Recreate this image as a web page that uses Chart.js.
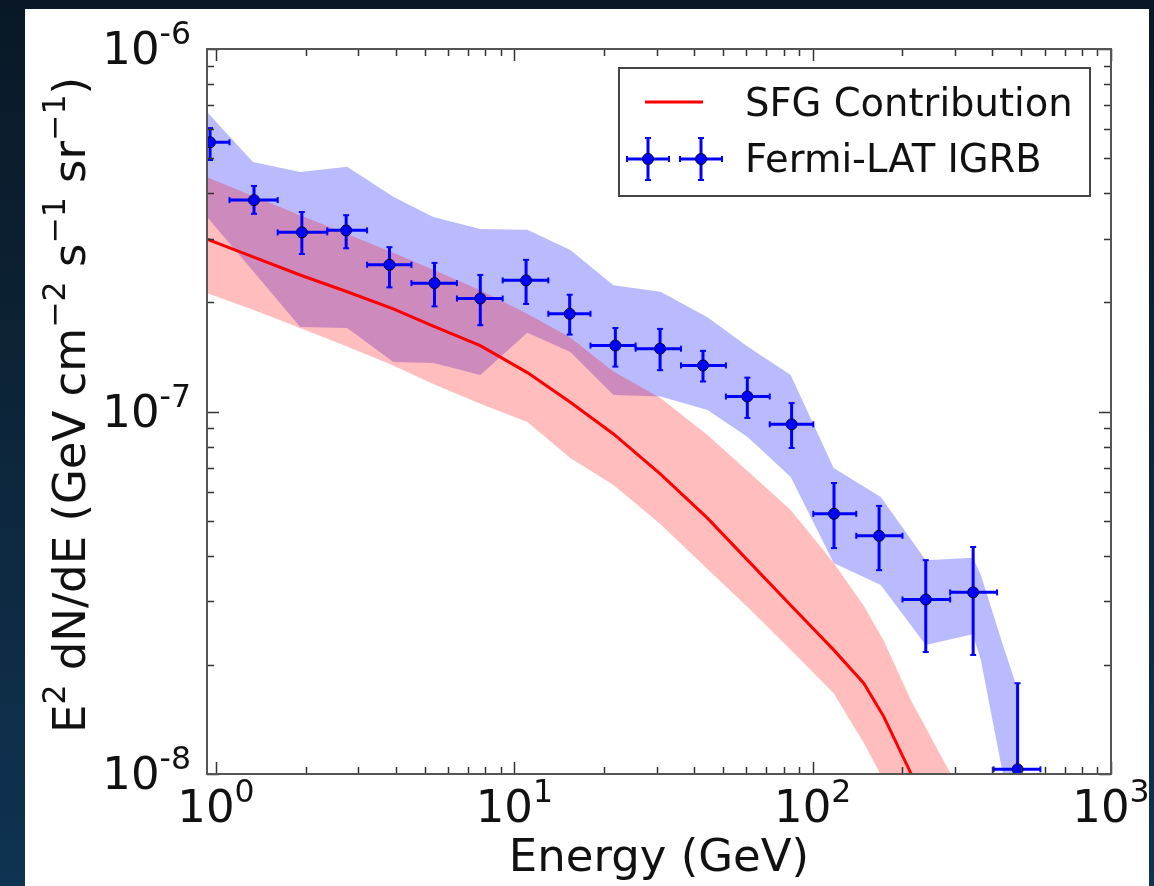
<!DOCTYPE html>
<html>
<head>
<meta charset="utf-8">
<script src="https://cdn.jsdelivr.net/npm/chart.js@4.4.1/dist/chart.umd.min.js"></script>
<style>
html, body { margin:0; padding:0; width:1154px; height:886px; overflow:hidden;
  background: linear-gradient(180deg, #0a1826 0%, #0c2438 45%, #0f3352 100%); }
#panel { position:absolute; left:25px; top:9px; width:1124px; height:877px; background:#ffffff; }
#wrap { position:absolute; left:0; top:0; width:1154px; height:886px; }
</style>
</head>
<body>
<div id="panel"></div>
<div id="wrap"><canvas id="c" width="1154" height="886"></canvas></div>
<script>
// ---------------- data ----------------
// Fermi-LAT IGRB data points
const fermiEnergy  = [0.955, 1.341, 1.940, 2.731, 3.815, 5.40, 7.69, 10.95, 15.33, 21.81, 30.8, 42.9, 60.4, 85.0, 117.9, 167.0, 239.4, 345.1, 486.3];
const fermiFlux    = [5.53e-7, 3.83e-7, 3.12e-7, 3.16e-7, 2.54e-7, 2.26e-7, 2.05e-7, 2.30e-7, 1.86e-7, 1.52e-7, 1.49e-7, 1.34e-7, 1.10e-7, 9.22e-8, 5.22e-8, 4.54e-8, 3.03e-8, 3.17e-8, 1.03e-8];
const fermiErrHigh = [6.05e-7, 4.19e-7, 3.55e-7, 3.48e-7, 2.84e-7, 2.57e-7, 2.38e-7, 2.62e-7, 2.10e-7, 1.70e-7, 1.69e-7, 1.47e-7, 1.24e-7, 1.055e-7, 6.35e-8, 5.49e-8, 3.89e-8, 4.23e-8, 1.78e-8];
const fermiErrLow  = [4.94e-7, 3.51e-7, 2.72e-7, 2.82e-7, 2.20e-7, 1.95e-7, 1.73e-7, 1.98e-7, 1.63e-7, 1.33e-7, 1.30e-7, 1.21e-7, 9.60e-8, 7.93e-8, 4.20e-8, 3.65e-8, 2.17e-8, 2.13e-8, 1e-9];
const fermiBinLow  = [0.818, 1.11, 1.61, 2.36, 3.21, 4.52, 6.42, 9.14, 13.0, 18.0, 25.5, 36.2, 51.2, 71.8, 100.5, 140, 200, 289, 404];
const fermiBinHigh = [1.11, 1.61, 2.36, 3.21, 4.52, 6.42, 9.14, 13.0, 18.0, 25.5, 36.2, 51.2, 71.8, 100.5, 140, 200, 289, 415, 580];

// Fermi systematic band (blue)
const blueBandEnergy = [0.933, 1.331, 1.914, 2.752, 3.93, 5.35, 7.69, 11.06, 15.41, 21.49, 30.9, 44.4, 60.5, 84.4, 117.6, 169.1, 239.4, 344.4, 366.3, 434.2, 487.5];
const blueBandHigh   = [6.70e-7, 4.88e-7, 4.58e-7, 4.73e-7, 3.91e-7, 3.44e-7, 3.19e-7, 3.17e-7, 2.79e-7, 2.23e-7, 2.14e-7, 1.82e-7, 1.51e-7, 1.26e-7, 6.98e-8, 5.81e-8, 3.89e-8, 3.95e-8, 3.54e-8, 2.27e-8, 1.70e-8];
const blueBandLow    = [3.44e-7, 2.44e-7, 1.71e-7, 1.70e-7, 1.37e-7, 1.36e-7, 1.26e-7, 1.65e-7, 1.46e-7, 1.11e-7, 1.10e-7, 1.01e-7, 8.51e-8, 6.60e-8, 3.82e-8, 3.32e-8, 2.27e-8, 2.43e-8, 2.06e-8, 1.0e-8, 1e-9];

// SFG contribution (red line and band)
const sfgEnergy = [0.933, 1.331, 1.914, 2.752, 3.93, 5.35, 7.69, 11.06, 15.41, 21.49, 30.9, 44.4, 60.5, 84.4, 117.6, 148.3, 173.1, 213.3, 290.4];
const sfgFlux   = [2.99e-7, 2.67e-7, 2.38e-7, 2.14e-7, 1.92e-7, 1.72e-7, 1.52e-7, 1.28e-7, 1.06e-7, 8.67e-8, 6.72e-8, 5.08e-8, 3.89e-8, 2.92e-8, 2.20e-8, 1.78e-8, 1.44e-8, 1.006e-8, 5.9e-9];
const sfgHigh   = [4.43e-7, 3.93e-7, 3.48e-7, 3.09e-7, 2.74e-7, 2.46e-7, 2.16e-7, 1.86e-7, 1.60e-7, 1.29e-7, 1.09e-7, 8.61e-8, 6.85e-8, 5.35e-8, 3.82e-8, 2.91e-8, 2.33e-8, 1.60e-8, 1.0e-8];
const sfgLow    = [2.12e-7, 1.91e-7, 1.70e-7, 1.51e-7, 1.34e-7, 1.19e-7, 1.05e-7, 9.36e-8, 7.44e-8, 6.27e-8, 4.89e-8, 3.68e-8, 2.89e-8, 2.20e-8, 1.67e-8, 1.22e-8, 9.6e-9, 7.0e-9, 4.5e-9];

// axes and tick labels
const xMin = 0.933, xMax = 1000;
const yMin = 1e-8, yMax = 1e-6;
const xTickValues = [1, 10, 100, 1000];
const xTickExps   = ['0', '1', '2', '3'];
const yTickValues = [1e-8, 1e-7, 1e-6];
const yTickExps   = ['-8', '-7', '-6'];
const xTitle = 'Energy (GeV)';
const yTitleParts = [
  {t:'E'}, {t:'2', s:true}, {t:' dN/dE (GeV cm'}, {t:'\u22122', s:true},
  {t:' s'}, {t:'\u22121', s:true}, {t:' sr'}, {t:'\u22121', s:true}, {t:')'}
];
const legendLabels = ['SFG Contribution', 'Fermi-LAT IGRB'];

// ---------------- chart ----------------
const FONT = "'DejaVu Sans', 'Bitstream Vera Sans', sans-serif";
const BLUE = '#0000ff';
const RED = '#ff0000';

const pts = (xs, ys) => xs.map((x, i) => ({x: x, y: ys[i]}));

const xErrPts = [];
const yErrPts = [];
fermiEnergy.forEach((e, i) => {
  xErrPts.push({x: fermiBinLow[i], y: fermiFlux[i]}, {x: fermiBinHigh[i], y: fermiFlux[i]}, {x: fermiBinHigh[i], y: null});
  yErrPts.push({x: e, y: fermiErrLow[i]}, {x: e, y: fermiErrHigh[i]}, {x: e, y: null});
});

function richWidth(ctx, parts, base, sup) {
  let w = 0;
  for (const p of parts) {
    ctx.font = (p.s ? sup : base) + 'px ' + FONT;
    w += ctx.measureText(p.t).width;
  }
  return w;
}
function drawRich(ctx, parts, x, y, base, sup, raise) {
  ctx.textAlign = 'left';
  ctx.textBaseline = 'alphabetic';
  for (const p of parts) {
    ctx.font = (p.s ? sup : base) + 'px ' + FONT;
    ctx.fillText(p.t, x, p.s ? y - raise : y);
    x += ctx.measureText(p.t).width;
  }
}
function drawErrMarker(ctx, cx, cy) {
  ctx.strokeStyle = BLUE; ctx.lineWidth = 3;
  ctx.beginPath();
  ctx.moveTo(cx - 21, cy); ctx.lineTo(cx + 21, cy);
  ctx.moveTo(cx, cy - 21); ctx.lineTo(cx, cy + 21);
  ctx.stroke();
  ctx.lineWidth = 2;
  ctx.beginPath();
  ctx.moveTo(cx - 21, cy - 3); ctx.lineTo(cx - 21, cy + 3);
  ctx.moveTo(cx + 21, cy - 3); ctx.lineTo(cx + 21, cy + 3);
  ctx.moveTo(cx - 3, cy - 21); ctx.lineTo(cx + 3, cy - 21);
  ctx.moveTo(cx - 3, cy + 21); ctx.lineTo(cx + 3, cy + 21);
  ctx.stroke();
  ctx.fillStyle = BLUE; ctx.strokeStyle = '#000033'; ctx.lineWidth = 1;
  ctx.beginPath(); ctx.arc(cx, cy, 5.5, 0, Math.PI * 2); ctx.fill(); ctx.stroke();
}

const decoPlugin = {
  id: 'deco',
  afterDatasetsDraw(chart) {
    const {ctx, chartArea: a, scales} = chart;
    const xs = scales.x, ys = scales.y;
    ctx.save();
    // minor / major ticks pointing inwards on all four sides
    ctx.strokeStyle = '#333'; ctx.lineWidth = 1.5;
    ctx.beginPath();
    for (let d = -1; d <= 3; d++) {
      for (let m = 1; m <= 9; m++) {
        const v = m * Math.pow(10, d);
        if (v < xs.min * 0.999 || v > xs.max * 1.001) continue;
        const px = Math.round(xs.getPixelForValue(v)) + 0.5;
        const len = m === 1 ? 12 : 7;
        ctx.moveTo(px, a.bottom); ctx.lineTo(px, a.bottom - len);
        ctx.moveTo(px, a.top); ctx.lineTo(px, a.top + len);
      }
    }
    for (let d = -9; d <= -6; d++) {
      for (let m = 1; m <= 9; m++) {
        const v = m * Math.pow(10, d);
        if (v < ys.min * 0.999 || v > ys.max * 1.001) continue;
        const py = Math.round(ys.getPixelForValue(v)) + 0.5;
        const len = m === 1 ? 12 : 7;
        ctx.moveTo(a.left, py); ctx.lineTo(a.left + len, py);
        ctx.moveTo(a.right, py); ctx.lineTo(a.right - len, py);
      }
    }
    ctx.stroke();
    // frame
    ctx.strokeStyle = '#555'; ctx.lineWidth = 2;
    ctx.strokeRect(a.left, a.top, a.right - a.left, a.bottom - a.top);
    ctx.restore();
  },
  afterDraw(chart) {
    const {ctx, chartArea: a, scales} = chart;
    const xs = scales.x, ys = scales.y;
    ctx.save();
    ctx.fillStyle = '#111';
    const BASE = 45, SUP = 31.5, RAISE = 20;
    // x tick labels
    xTickValues.forEach((v, i) => {
      const px = xs.getPixelForValue(v);
      const parts = [{t:'10'}, {t: xTickExps[i], s:true}];
      const w = richWidth(ctx, parts, BASE, SUP);
      drawRich(ctx, parts, px - w / 2, a.bottom + 48, BASE, SUP, RAISE);
    });
    // y tick labels
    yTickValues.forEach((v, i) => {
      const py = ys.getPixelForValue(v);
      const parts = [{t:'10'}, {t: yTickExps[i], s:true}];
      const w = richWidth(ctx, parts, BASE, SUP);
      drawRich(ctx, parts, 191 - w, py + 15, BASE, SUP, RAISE);
    });
    // x title
    ctx.font = '45px ' + FONT;
    ctx.textAlign = 'center'; ctx.textBaseline = 'alphabetic';
    ctx.fillText(xTitle, (a.left + a.right) / 2, 871);
    // y title (rotated)
    ctx.save();
    ctx.translate(85, 405);
    ctx.rotate(-Math.PI / 2);
    const tw = richWidth(ctx, yTitleParts, 45, 31.5);
    drawRich(ctx, yTitleParts, -tw / 2, 0, 45, 31.5, 20);
    ctx.restore();

    // legend
    const L = {x: 619, y: 68, w: 471, h: 128};
    ctx.fillStyle = '#ffffff';
    ctx.fillRect(L.x, L.y, L.w, L.h);
    ctx.strokeStyle = '#444'; ctx.lineWidth = 2;
    ctx.strokeRect(L.x, L.y, L.w, L.h);
    ctx.strokeStyle = RED; ctx.lineWidth = 3;
    ctx.beginPath(); ctx.moveTo(645, 102); ctx.lineTo(703, 102); ctx.stroke();
    drawErrMarker(ctx, 648, 159);
    drawErrMarker(ctx, 701, 159);
    ctx.fillStyle = '#111';
    ctx.font = '38.5px ' + FONT;
    ctx.textAlign = 'left'; ctx.textBaseline = 'alphabetic';
    ctx.fillText(legendLabels[0], 745, 116);
    ctx.fillText(legendLabels[1], 745, 172);
    ctx.restore();
  }
};

Chart.defaults.font.family = FONT;

new Chart(document.getElementById('c'), {
  type: 'scatter',
  data: {
    datasets: [
      { // 0 blue band upper
        type: 'line', label: 'Fermi band high', data: pts(blueBandEnergy, blueBandHigh),
        borderColor: 'rgba(0,0,0,0)', borderWidth: 0, pointRadius: 0,
        fill: '+1', backgroundColor: 'rgba(0,0,255,0.27)', order: 6
      },
      { // 1 blue band lower
        type: 'line', label: 'Fermi band low', data: pts(blueBandEnergy, blueBandLow),
        borderColor: 'rgba(0,0,0,0)', borderWidth: 0, pointRadius: 0, fill: false, order: 6
      },
      { // 2 red band upper
        type: 'line', label: 'SFG band high', data: pts(sfgEnergy, sfgHigh),
        borderColor: 'rgba(0,0,0,0)', borderWidth: 0, pointRadius: 0,
        fill: '+1', backgroundColor: 'rgba(255,0,0,0.26)', order: 5
      },
      { // 3 red band lower
        type: 'line', label: 'SFG band low', data: pts(sfgEnergy, sfgLow),
        borderColor: 'rgba(0,0,0,0)', borderWidth: 0, pointRadius: 0, fill: false, order: 5
      },
      { // 4 SFG contribution line
        type: 'line', label: legendLabels[0], data: pts(sfgEnergy, sfgFlux),
        borderColor: RED, borderWidth: 3, pointRadius: 0, fill: false, order: 4
      },
      { // 5 horizontal error bars
        type: 'line', label: 'xerr', data: xErrPts, spanGaps: false,
        borderColor: BLUE, borderWidth: 3, fill: false,
        pointStyle: 'line', pointRotation: 90, pointRadius: 3, pointBorderWidth: 2,
        pointBorderColor: BLUE, order: 3
      },
      { // 6 vertical error bars
        type: 'line', label: 'yerr', data: yErrPts, spanGaps: false,
        borderColor: BLUE, borderWidth: 3, fill: false,
        pointStyle: 'line', pointRotation: 0, pointRadius: 3, pointBorderWidth: 2,
        pointBorderColor: BLUE, order: 2
      },
      { // 7 data points
        type: 'scatter', label: legendLabels[1], data: pts(fermiEnergy, fermiFlux),
        pointRadius: 5.5, pointBackgroundColor: BLUE, pointBorderColor: '#000033',
        pointBorderWidth: 1, order: 0
      }
    ]
  },
  options: {
    responsive: false,
    animation: false,
    devicePixelRatio: 1,
    events: [],
    layout: { padding: { left: 0, top: 49, right: 43, bottom: 0 } },
    plugins: { legend: { display: false }, tooltip: { enabled: false } },
    scales: {
      x: {
        type: 'logarithmic', min: xMin, max: xMax,
        grid: { display: false }, border: { display: false },
        ticks: { display: false },
        afterBuildTicks: (s) => { s.ticks = xTickValues.map(v => ({value: v})); },
        afterFit: (s) => { s.height = 112; }
      },
      y: {
        type: 'logarithmic', min: yMin, max: yMax,
        grid: { display: false }, border: { display: false },
        ticks: { display: false },
        afterBuildTicks: (s) => { s.ticks = yTickValues.map(v => ({value: v})); },
        afterFit: (s) => { s.width = 207; }
      }
    }
  },
  plugins: [decoPlugin]
});
</script>
</body>
</html>
